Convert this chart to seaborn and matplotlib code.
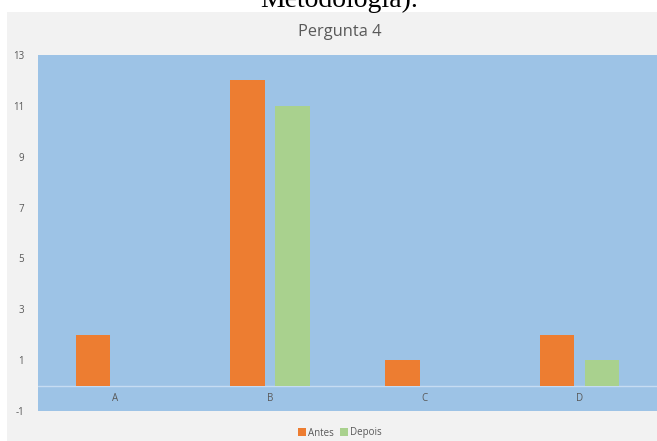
import numpy as np
import pandas as pd
import matplotlib
matplotlib.use("Agg")
import matplotlib.pyplot as plt
import seaborn as sns
from matplotlib.patches import Rectangle


# DATA

categories = ["A", "B", "C", "D"]
antes = [2, 12, 1, 2]
depois = [0, 11, 0, 1]
series_names = ["Antes", "Depois"]
y_ticks = [-1, 1, 3, 5, 7, 9, 11, 13]

title = "Pergunta 4"
caption = "Metodologia)."

ORANGE = "#ed7d31"
GREEN = "#a9d18e"
PLOT_BG = "#9dc3e6"
FIG_BG = "#f2f2f2"
TXT = "#595959"


# TABLE

df = pd.DataFrame({
    "categoria": categories * 2,
    "serie": [series_names[0]] * len(categories) + [series_names[1]] * len(categories),
    "valor": antes + depois,
})


# FIGURE

sns.set_style("white")
plt.rcParams["font.family"] = ["Open Sans", "DejaVu Sans"]
plt.rcParams["axes.unicode_minus"] = False

fig = plt.figure(figsize=(6.57, 4.41), dpi=100)
fig.patch.set_facecolor("white")

# gray chart background below the white strip
fig.patches.append(Rectangle((7 / 657, 0), 1, (441 - 12) / 441,
                             transform=fig.transFigure, facecolor=FIG_BG,
                             edgecolor="none", zorder=0))

# cut-off caption from the page above
fig.text(339 / 657, 1 - 7 / 441, caption, ha="center", va="baseline",
         fontsize=20, family=["Liberation Serif"], color="black", zorder=0.5)

ax = fig.add_axes([38 / 657, 30 / 441, 1 - 38 / 657, (411 - 55) / 441])
ax.set_zorder(2)
ax.set_facecolor(PLOT_BG)

sns.barplot(data=df, x="categoria", y="valor", hue="serie",
            palette=[ORANGE, GREEN], width=0.58, gap=0.23,
            saturation=1, linewidth=0, ax=ax, legend=True)

ax.axhline(0, color="#c6dcf2", lw=1, zorder=0.5)

ax.set_ylim(-1, 13)
ax.set_xlim(-0.5, 3.5)
ax.set_yticks(y_ticks)
ax.set_xticks(range(len(categories)))
ax.set_xticklabels(categories)
ax.tick_params(axis="x", length=0, pad=-13, labelsize=7, labelcolor=TXT)
ax.tick_params(axis="y", length=0, pad=10, labelsize=7, labelcolor=TXT)
ax.set_xlabel("")
ax.set_ylabel("")
for s in ax.spines.values():
    s.set_visible(False)

fig.text(340 / 657, 1 - 32 / 441, title, ha="center", va="center",
         fontsize=11.8, color=TXT, zorder=3)

handles, labels = ax.get_legend_handles_labels()
ax.legend(handles, labels, loc="center", bbox_to_anchor=(340 / 657, 1 - 433 / 441),
          bbox_transform=fig.transFigure, ncol=2, frameon=False,
          fontsize=7, handlelength=0.85, handleheight=0.85,
          handletextpad=0.2, columnspacing=0.6, labelcolor=TXT)

fig.savefig("out.png", dpi=100)
